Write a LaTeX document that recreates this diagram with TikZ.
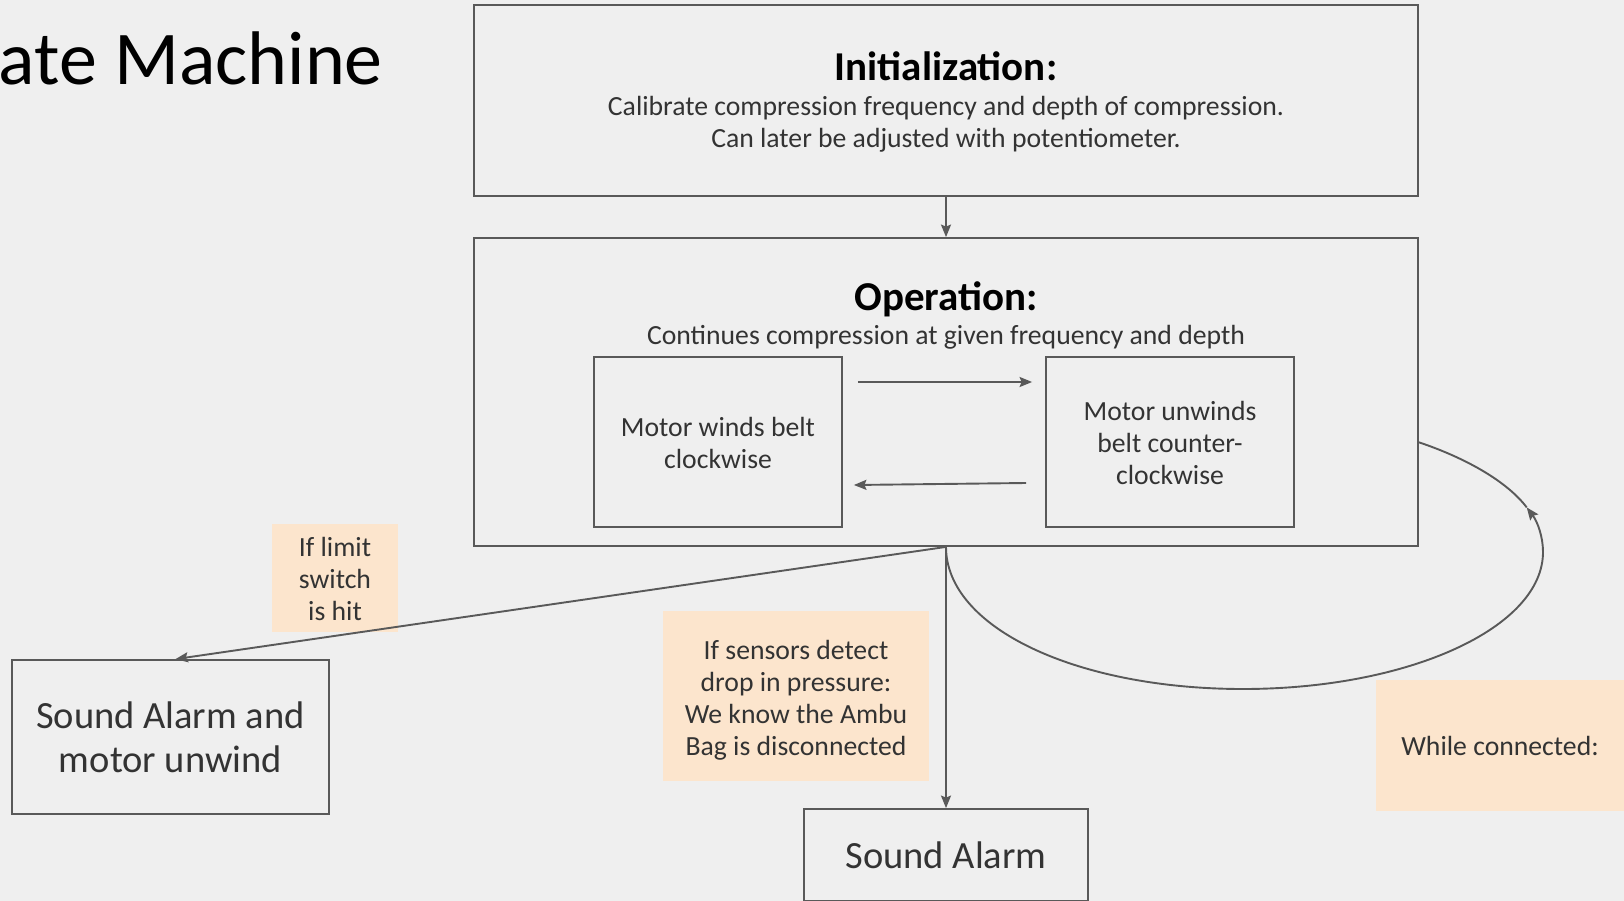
\documentclass[tikz,border=0pt]{standalone}
\usepackage{fontspec}
\setmainfont{Carlito}
\usetikzlibrary{arrows.meta}
\definecolor{bg}{HTML}{EFEFEF}
\definecolor{ln}{HTML}{595959}
\definecolor{note}{HTML}{FCE5CD}
\definecolor{txt}{HTML}{333333}
\begin{document}
\begin{tikzpicture}[x=1pt,y=-1pt,
  box/.style={draw=ln,line width=1.8pt,inner sep=0pt},
  notebox/.style={fill=note,inner sep=0pt},
  conn/.style={draw=ln,line width=1.9pt,-{Stealth[length=12.5pt,width=10pt,inset=2pt]}},
  plain/.style={draw=ln,line width=1.9pt},
  body/.style={font=\fontsize{27.7}{32}\selectfont,text=txt,align=center,anchor=base,inner sep=0pt},
  big/.style={font=\fontsize{38.5}{44}\selectfont,text=txt,align=center,anchor=base,inner sep=0pt},
  head/.style={font=\fontsize{41}{44}\selectfont\bfseries,text=black,anchor=base,inner sep=0pt},
  titletext/.style={font=\fontsize{76}{84}\selectfont,text=black,anchor=base east,inner sep=0pt}]
\useasboundingbox (0,0) rectangle (1624,901);
\clip (0,0) rectangle (1624,901);
\fill[bg] (0,0) rectangle (1624,901);

% title
\node[titletext] (title) at (383,85) {ate Machine};

% orange notes
\node[notebox,minimum width=126,minimum height=108] (n1) at (335,578) {};
\node[notebox,minimum width=266,minimum height=170] (n2) at (796,696) {};
\node[notebox,minimum width=260,minimum height=131] (n3) at (1506,745.5) {};

% boxes
\node[box,minimum width=944,minimum height=191] (init) at (946,100.5) {};
\node[box,minimum width=944,minimum height=308] (op) at (946,392) {};
\node[box,minimum width=248,minimum height=170] (wind) at (718,442) {};
\node[box,minimum width=248,minimum height=170] (unwind) at (1170,442) {};
\node[box,minimum width=317,minimum height=154] (alarmA) at (170.5,737) {};
\node[box,minimum width=284,minimum height=92] (alarmB) at (946,855) {};

% texts (anchor = baseline of the last line)
\node[head] (inith) at (946,81) {Initialization:};
\node[body] (initb) at (946,148) {Calibrate compression frequency and depth of compression.\\Can later be adjusted with potentiometer.};
\node[head] (oph) at (946,310) {Operation:};
\node[body] (opb) at (946,344) {Continues compression at given frequency and depth};
\node[body] (windt) at (718,468) {Motor winds belt\\clockwise};
\node[body] (unwindt) at (1170,484) {Motor unwinds\\belt counter-\\clockwise};
\node[big] (alarmAt) at (170.5,772) {Sound Alarm and\\motor unwind};
\node[big] (alarmBt) at (946,868) {Sound Alarm};
\node[body] (n1t) at (335,620) {If limit\\switch\\is hit};
\node[body] (n2t) at (796,755) {If sensors detect\\drop in pressure:\\We know the Ambu\\Bag is disconnected};
\node[body] (n3t) at (1500,755) {While connected:};

% connectors
\draw[conn] (init.south) -- (op.north);
\draw[conn] ([xshift=15pt]wind.east |- 0,382) -- ([xshift=-13pt]unwind.west |- 0,382);
\draw[conn] ([xshift=-19pt]unwind.west |- 0,483) -- ([xshift=11pt]wind.east |- 0,485);
\draw[conn] (op.south) -- ([xshift=5pt]alarmA.north);
\draw[conn] (op.south) -- (alarmB.north);
\coordinate (opR) at (1418,442);
\coordinate (loopTip) at (1526.7,507.4);
\draw[conn] (op.south) .. controls (946,628) and (1077,689) .. (1243,689)
  .. controls (1408.7,689) and (1543,627.7) .. (1543,552)
  .. controls (1543,536.8) and (1537.5,521.7) .. (loopTip);
\draw[plain] (loopTip) .. controls (1507.2,481.6) and (1466,458) .. (opR);
\end{tikzpicture}
\end{document}
